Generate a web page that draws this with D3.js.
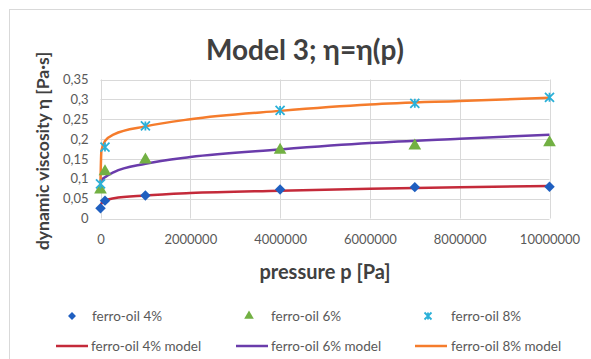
<!DOCTYPE html>
<html>
<head>
<meta charset="utf-8">
<script src="https://cdn.jsdelivr.net/npm/d3@7"></script>
<style>
  body { margin: 0; background: #fff; }
  text { font-family: Lato, "Open Sans", sans-serif; }
</style>
</head>
<body>
<script>
let width = 591;
let height = 359;

// measured pressures [Pa]
let pressures = [0, 100000, 1000000, 4000000, 7000000, 10000000];
let oil4 = [0.026, 0.045, 0.058, 0.073, 0.079, 0.080];
let oil6 = [0.072, 0.118, 0.148, 0.172, 0.183, 0.191];
let oil8 = [0.087, 0.180, 0.233, 0.272, 0.290, 0.305];

// model curves
let modelP = [0, 20000, 100000, 300000, 1000000, 2000000, 4000000, 6000000, 8000000, 10000000];
let model4 = [0.028, 0.038, 0.045, 0.051, 0.058, 0.064, 0.070, 0.075, 0.079, 0.082];
let model6 = [0.091, 0.096, 0.104, 0.117, 0.138, 0.155, 0.174, 0.190, 0.201, 0.211];
let model8 = [0.093, 0.170, 0.195, 0.212, 0.232, 0.250, 0.271, 0.287, 0.296, 0.304];

let xTicks = [0, 2000000, 4000000, 6000000, 8000000, 10000000];
let yTicks = [0, 0.05, 0.1, 0.15, 0.2, 0.25, 0.3, 0.35];

let blue = '#1f5fc0', green = '#72b043', cyan = '#2bb0d8';
let red = '#c42a3a', purple = '#6a3cab', orange = '#f57c2c';

let svg = d3.select('body').append('svg').attr('width', width).attr('height', height);

// chart frame
svg.append('rect').attr('x', 9.5).attr('y', 9.5).attr('width', 620).attr('height', 400)
  .attr('fill', 'none').attr('stroke', '#d9d9d9');

let x = d3.scaleLinear().domain([0, 10000000]).range([100.5, 549.5]);
let y = d3.scaleLinear().domain([0, 0.35]).range([218.5, 79.5]);

// grid
let grid = svg.append('g');
grid.selectAll('.hy').data(yTicks).enter().append('line')
  .attr('x1', x(0)).attr('x2', x(10000000))
  .attr('y1', d => Math.round(y(d)) + 0.5).attr('y2', d => Math.round(y(d)) + 0.5)
  .attr('stroke', '#d9d9d9');
grid.selectAll('.vx').data(xTicks).enter().append('line')
  .attr('y1', y(0)).attr('y2', y(0.35))
  .attr('x1', d => Math.round(x(d)) + 0.5).attr('x2', d => Math.round(x(d)) + 0.5)
  .attr('stroke', '#d9d9d9');

// axes labels via d3 axes
let fmtY = d => d3.format('')(d).replace('.', ',');
let yAxis = svg.append('g').attr('transform', 'translate(' + x(0) + ',0)')
  .call(d3.axisLeft(y).tickValues(yTicks).tickFormat(fmtY).tickSize(0).tickPadding(12));
let xAxis = svg.append('g').attr('transform', 'translate(0,' + y(0) + ')')
  .call(d3.axisBottom(x).tickValues(xTicks).tickFormat(d3.format('d')).tickSize(0).tickPadding(16));
[yAxis, xAxis].forEach(a => {
  a.select('.domain').remove();
  a.selectAll('text').attr('fill', '#595959').style('font-size', '13px').style('font-family', 'Lato, sans-serif');
});

// model lines
let line = d3.line().x(d => x(d[0])).y(d => y(d[1])).curve(d3.curveMonotoneX);
let models = [[model4, red], [model6, purple], [model8, orange]];
models.forEach(([vals, col]) => {
  svg.append('path').datum(modelP.map((p, i) => [p, vals[i]]))
    .attr('d', line).attr('fill', 'none').attr('stroke', col).attr('stroke-width', 2.5);
});

// markers
let diamond = d3.symbol().type(d3.symbolDiamond2).size(70);
let triangle = d3.symbol().type(d3.symbolTriangle).size(70);
let drawStar = (g, cx, cy, s) => {
  g.append('path')
    .attr('d', `M${cx - s},${cy - s}L${cx + s},${cy + s}M${cx - s},${cy + s}L${cx + s},${cy - s}M${cx},${cy - s}L${cx},${cy + s}`)
    .attr('stroke', cyan).attr('stroke-width', 1.8).attr('fill', 'none');
};

svg.selectAll('.d4').data(pressures).enter().append('path')
  .attr('d', diamond).attr('fill', blue)
  .attr('transform', (p, i) => 'translate(' + x(p) + ',' + y(oil4[i]) + ')');
svg.selectAll('.t6').data(pressures).enter().append('path')
  .attr('d', triangle).attr('fill', green)
  .attr('transform', (p, i) => 'translate(' + x(p) + ',' + y(oil6[i]) + ')');
let stars = svg.append('g');
pressures.forEach((p, i) => drawStar(stars, x(p), y(oil8[i]), 4.5));

// title
svg.append('text').attr('x', 305).attr('y', 60).attr('text-anchor', 'middle')
  .attr('fill', '#404040').style('font-size', '28px').style('font-weight', 'bold')
  .text('Model 3; η=η(p)');

// axis titles
svg.append('text').attr('x', 325).attr('y', 279).attr('text-anchor', 'middle')
  .attr('fill', '#404040').style('font-size', '20px').style('font-weight', 'bold')
  .text('pressure p [Pa]');
svg.append('text').attr('transform', 'translate(49,151) rotate(-90)').attr('text-anchor', 'middle')
  .attr('fill', '#404040').style('font-size', '17.5px').style('font-weight', 'bold')
  .text('dynamic viscosity η [Pa·s]');

// legend
let legend = svg.append('g');
let legendItems = [
  {label: 'ferro-oil 4%', kind: 'diamond', col: blue, lx: 72, tx: 92, ly: 316},
  {label: 'ferro-oil 6%', kind: 'triangle', col: green, lx: 249, tx: 271, ly: 316},
  {label: 'ferro-oil 8%', kind: 'star', col: cyan, lx: 428, tx: 451, ly: 316},
  {label: 'ferro-oil 4% model', kind: 'line', col: red, lx: 56, tx: 91, ly: 346},
  {label: 'ferro-oil 6% model', kind: 'line', col: purple, lx: 236, tx: 271, ly: 346},
  {label: 'ferro-oil 8% model', kind: 'line', col: orange, lx: 415, tx: 451, ly: 346}
];
legendItems.forEach(it => {
  if (it.kind === 'diamond') {
    legend.append('path').attr('d', d3.symbol().type(d3.symbolDiamond2).size(40)).attr('fill', it.col)
      .attr('transform', 'translate(' + it.lx + ',' + it.ly + ')');
  } else if (it.kind === 'triangle') {
    legend.append('path').attr('d', d3.symbol().type(d3.symbolTriangle).size(40)).attr('fill', it.col)
      .attr('transform', 'translate(' + it.lx + ',' + it.ly + ')');
  } else if (it.kind === 'star') {
    drawStar(legend, it.lx, it.ly, 3.5);
  } else {
    legend.append('line').attr('x1', it.lx).attr('x2', it.lx + 32).attr('y1', it.ly).attr('y2', it.ly)
      .attr('stroke', it.col).attr('stroke-width', 2.5);
  }
  legend.append('text').attr('x', it.tx).attr('y', it.ly + 4.5)
    .attr('fill', '#595959').style('font-size', '13.5px').text(it.label);
});
</script>
</body>
</html>
